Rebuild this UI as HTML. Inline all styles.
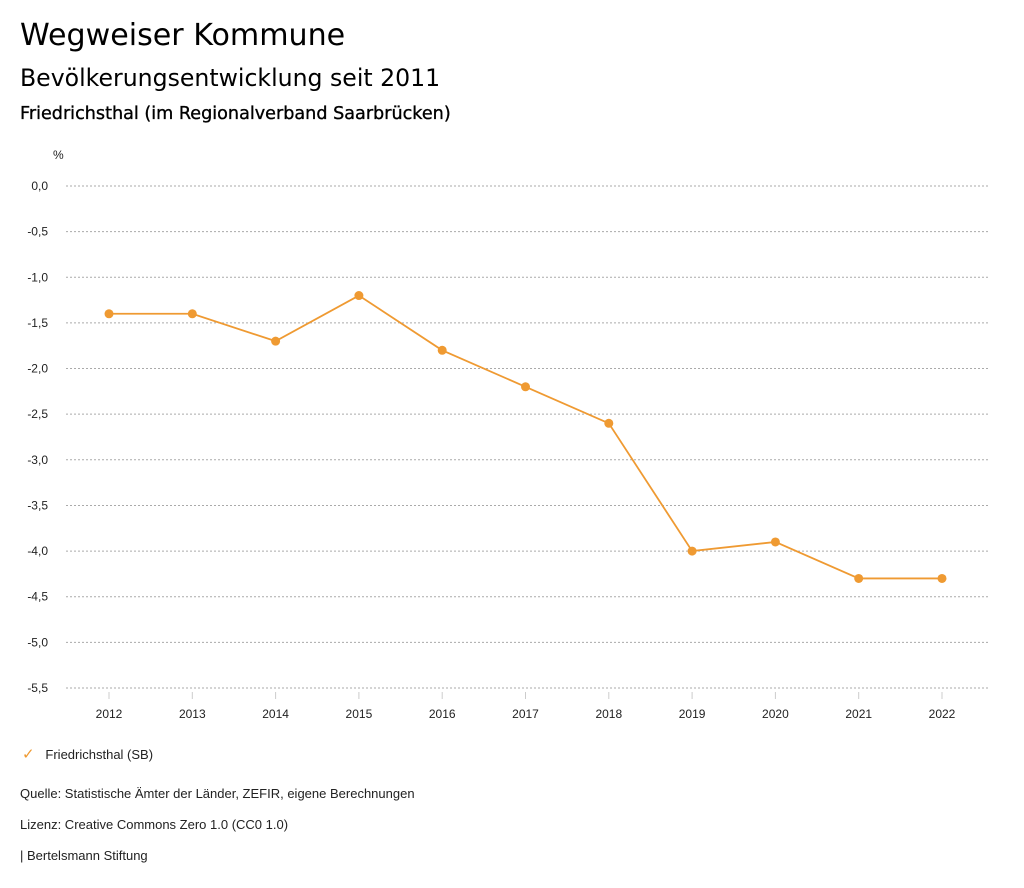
<!DOCTYPE html>
<html><head><meta charset="utf-8"><style>
body{margin:0;width:1024px;height:888px;background:#fff;font-family:"Liberation Sans",sans-serif;overflow:hidden;position:relative}
.t{position:absolute;left:20px;white-space:nowrap;color:#000}
</style></head><body>
<div class="t" style="top:18px;font:30.1px 'DejaVu Sans',sans-serif">Wegweiser Kommune</div>
<div class="t" style="top:64px;font:23.6px 'DejaVu Sans',sans-serif">Bevölkerungsentwicklung seit 2011</div>
<div class="t" style="top:104px;font:17.6px 'DejaVu Sans',sans-serif;-webkit-text-stroke:0.35px #000">Friedrichsthal (im Regionalverband Saarbrücken)</div>
<svg id="chart" width="1024" height="740" style="position:absolute;left:0;top:0"></svg>
<div class="t" style="left:22px;top:745px;font-size:13px;color:#222"><span style="color:#ef9a32;font-size:15px">✓</span>&nbsp;&nbsp;&nbsp;Friedrichsthal (SB)</div>
<div class="t" style="top:786px;font-size:13px;color:#222">Quelle: Statistische Ämter der Länder, ZEFIR, eigene Berechnungen</div>
<div class="t" style="top:817px;font-size:13px;color:#222">Lizenz: Creative Commons Zero 1.0 (CC0 1.0)</div>
<div class="t" style="top:848px;font-size:13px;color:#222">| Bertelsmann Stiftung</div>
<script>
const years=[2012,2013,2014,2015,2016,2017,2018,2019,2020,2021,2022];
const values=[-1.4,-1.4,-1.7,-1.2,-1.8,-2.2,-2.6,-4.0,-3.9,-4.3,-4.3];
const yTicks=[0,-0.5,-1,-1.5,-2,-2.5,-3,-3.5,-4,-4.5,-5,-5.5];
const NS="http://www.w3.org/2000/svg";
const svg=document.getElementById('chart');
const x=i=>109+i*83.3;
const y=v=>186+(-v)*91.27;
function el(t,a,p){const e=document.createElementNS(NS,t);for(const k in a)e.setAttribute(k,a[k]);(p||svg).appendChild(e);return e;}
const u=el('text',{x:53,y:159,'font-size':12,fill:'#222','font-family':'Liberation Sans'});u.textContent='%';


yTicks.forEach(v=>{
 const g=el('line',{x1:66,x2:990,y1:y(v),y2:y(v),stroke:'#aaa','stroke-dasharray':'2,2','stroke-width':1});
 
 
 const t=el('text',{x:48,y:y(v)+4,'text-anchor':'end','font-size':12,fill:'#222','font-family':'Liberation Sans'});
 t.textContent=v.toFixed(1).replace('.',',').replace('-0,0','0,0');
 
 
});
years.forEach((yr,i)=>{
 const tk=el('line',{x1:x(i),x2:x(i),y1:692,y2:699,stroke:'#ccc'});
 
 
 const t=el('text',{x:x(i),y:718,'text-anchor':'middle','font-size':12,fill:'#222','font-family':'Liberation Sans'});
 t.textContent=yr;
 
 
});
const ln=el('polyline',{points:values.map((v,i)=>x(i)+','+y(v)).join(' '),fill:'none',stroke:'#ef9a32','stroke-width':1.8});


values.forEach((v,i)=>{
 const c=el('circle',{cx:x(i),cy:y(v),r:4.5,fill:'#ef9a32'});
 
 
});
</script>
</body></html>
